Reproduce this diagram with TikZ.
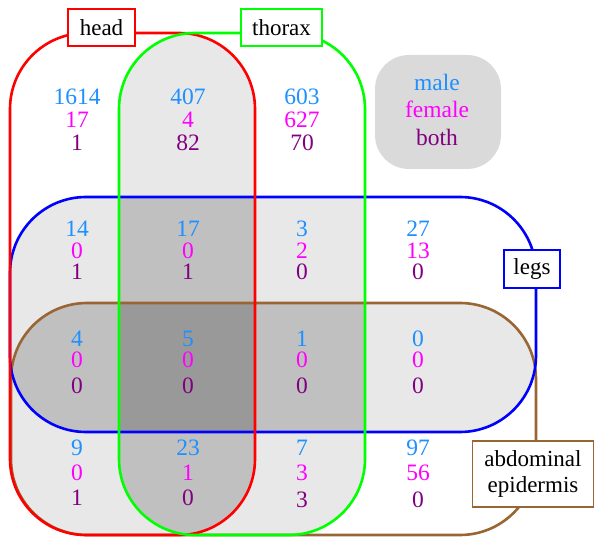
\documentclass[tikz,border=0pt]{standalone}
\usepackage{fontspec}
\setmainfont{Liberation Serif}

\definecolor{nmale}{RGB}{30,144,255}
\definecolor{nfemale}{RGB}{255,0,255}
\definecolor{nboth}{RGB}{128,0,128}
\definecolor{abdbrown}{RGB}{153,102,51}
\definecolor{limegreen}{RGB}{0,255,0}
\definecolor{lvltwo}{RGB}{232,232,232}
\definecolor{lvlthree}{RGB}{192,192,192}
\definecolor{lvlfour}{RGB}{153,153,153}
\definecolor{keygray}{RGB}{218,218,218}

% the four sets, as rectangles (rounded when drawn)
\newcommand\setHead{(10,33) rectangle (255,535)}
\newcommand\setThorax{(119,33) rectangle (365,535)}
\newcommand\setLegs{(10,197) rectangle (536,432)}
\newcommand\setAbd{(11,303) rectangle (536,535)}

% three counts (male, female, both) stacked in one region
\newcommand\trio[8]{%
  \node[num,text=nmale]   (#1m) at (#2,#3) {#6};
  \node[num,text=nfemale] (#1f) at (#2,#4) {#7};
  \node[num,text=nboth]   (#1b) at (#2,#5) {#8};}

\tikzset{
  round/.style={rounded corners=76pt},
  setline/.style={round,line width=2.6pt},
  num/.style={font=\fontsize{23.5}{23.5}\selectfont,inner sep=0pt,anchor=center},
  setlabel/.style={fill=white,line width=1.8pt,inner sep=0pt,
    font=\fontsize{23}{27}\selectfont,text=black,align=center},
  keytext/.style={font=\fontsize{23.5}{23.5}\selectfont,inner sep=0pt,anchor=base},
}

\begin{document}
\begin{tikzpicture}[x=1pt,y=-1pt]
\useasboundingbox (0,0) rectangle (595,537);

% ---- shading of the overlaps: two, three and four sets ----
\begin{scope}[round]
  \begin{scope}\clip \setHead;   \fill[lvltwo] \setThorax; \end{scope}
  \begin{scope}\clip \setHead;   \fill[lvltwo] \setLegs;   \end{scope}
  \begin{scope}\clip \setHead;   \fill[lvltwo] \setAbd;    \end{scope}
  \begin{scope}\clip \setThorax; \fill[lvltwo] \setLegs;   \end{scope}
  \begin{scope}\clip \setThorax; \fill[lvltwo] \setAbd;    \end{scope}
  \begin{scope}\clip \setLegs;   \fill[lvltwo] \setAbd;    \end{scope}

  \begin{scope}\clip \setHead; \clip \setThorax; \fill[lvlthree] \setLegs; \end{scope}
  \begin{scope}\clip \setHead; \clip \setThorax; \fill[lvlthree] \setAbd;  \end{scope}
  \begin{scope}\clip \setHead; \clip \setLegs;   \fill[lvlthree] \setAbd;  \end{scope}
  \begin{scope}\clip \setThorax; \clip \setLegs; \fill[lvlthree] \setAbd;  \end{scope}

  \begin{scope}\clip \setHead; \clip \setThorax; \clip \setLegs; \fill[lvlfour] \setAbd; \end{scope}
\end{scope}

% ---- outlines ----
\draw[setline,abdbrown]  \setAbd;
\draw[setline,blue]      \setLegs;
\draw[setline,red]       \setHead;
\draw[setline,limegreen] \setThorax;

% ---- set labels ----
\node[setlabel,draw=red,minimum width=67pt,minimum height=37pt] (head) at (101.5,27.5) {head};
\node[setlabel,draw=limegreen,minimum width=81pt,minimum height=37pt] (thorax) at (281.5,27.5) {thorax};
\node[setlabel,draw=blue,minimum width=56pt,minimum height=38pt] (legs) at (532,269) {legs};
\node[setlabel,draw=abdbrown,minimum width=121pt,minimum height=66pt] (abd) at (533,474) {abdominal\\[-1pt]epidermis};

% ---- key ----
\node[fill=keygray,rounded corners=34pt,minimum width=126pt,minimum height=114pt,inner sep=0pt] (key) at (438,112) {};
\node[keytext,text=nmale]   (keym) at (437,91)  {male};
\node[keytext,text=nfemale] (keyf) at (437,118) {female};
\node[keytext,text=nboth]   (keyb) at (437,146) {both};

% ---- counts ----
\trio{ra}{77}{97}{120}{143}{1614}{17}{1}
\trio{rb}{188}{97}{120}{143}{407}{4}{82}
\trio{rc}{302}{97}{120}{143}{603}{627}{70}

\trio{sa}{77}{229}{251}{272}{14}{0}{1}
\trio{sb}{188}{229}{251}{272}{17}{0}{1}
\trio{sc}{302}{229}{251}{272}{3}{2}{0}
\trio{sd}{418}{229}{251}{272}{27}{13}{0}

\trio{ta}{77}{339}{360}{386}{4}{0}{0}
\trio{tb}{188}{339}{360}{386}{5}{0}{0}
\trio{tc}{302}{339}{360}{386}{1}{0}{0}
\trio{td}{418}{339}{360}{386}{0}{0}{0}

\trio{ua}{77}{448}{473}{498}{9}{0}{1}
\trio{ub}{188}{448}{473}{498}{23}{1}{0}
\trio{uc}{302}{448}{473}{500}{7}{3}{3}
\trio{ud}{418}{448}{473}{500}{97}{56}{0}
\end{tikzpicture}
\end{document}
